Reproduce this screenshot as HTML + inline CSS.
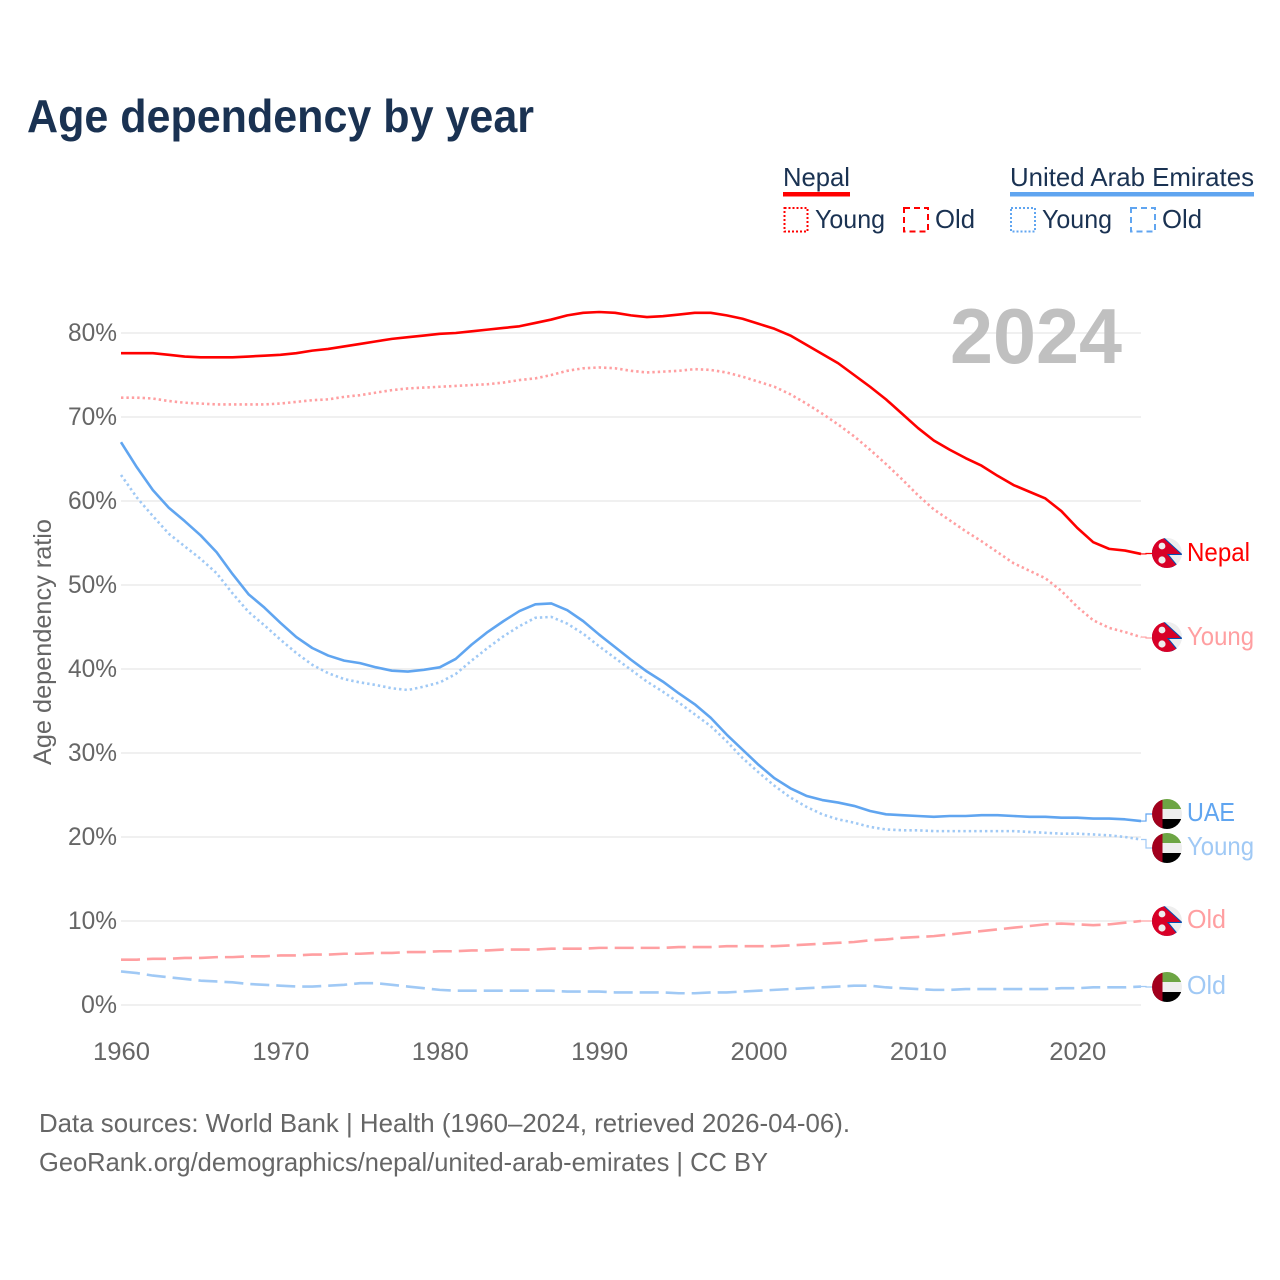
<!DOCTYPE html>
<html lang="en">
<head>
<meta charset="utf-8">
<title>Age dependency by year</title>
<style>
html,body{margin:0;padding:0;background:#fff}
svg{display:block}
text{font-family:"Liberation Sans",sans-serif}
</style>
</head>
<body>
<svg id="chart" xmlns="http://www.w3.org/2000/svg" width="1280" height="1280" viewBox="0 0 1280 1280">
  <defs>
    <clipPath id="flag-clip"><circle cx="0" cy="0" r="15"></circle></clipPath>
  </defs>
  <rect x="0" y="0" width="1280" height="1280" fill="#ffffff"></rect>
  <text x="27" y="132" font-size="46" font-weight="700" fill="#1a3252" textLength="507" lengthAdjust="spacingAndGlyphs">Age dependency by year</text>

  <g id="legend">
    <text x="783" y="186" font-size="26" fill="#1a3252" textLength="67" lengthAdjust="spacingAndGlyphs">Nepal</text>
    <rect x="783" y="192" width="67" height="4.5" fill="#ff0000"></rect>
    <rect x="784.5" y="208" width="23" height="23.5" fill="none" stroke="#ff0000" stroke-width="2" stroke-dasharray="2 2"></rect>
    <text x="815" y="228" font-size="26" fill="#1a3252" textLength="70" lengthAdjust="spacingAndGlyphs">Young</text>
    <rect x="904" y="208" width="24" height="23.5" fill="none" stroke="#ff0000" stroke-width="2" stroke-dasharray="6 4"></rect>
    <text x="935" y="228" font-size="26" fill="#1a3252" textLength="40" lengthAdjust="spacingAndGlyphs">Old</text>
    <text x="1010" y="186" font-size="26" fill="#1a3252" textLength="244" lengthAdjust="spacingAndGlyphs">United Arab Emirates</text>
    <rect x="1010" y="192" width="244" height="4.5" fill="#60a5f0"></rect>
    <rect x="1011" y="208" width="24" height="23.5" fill="none" stroke="#60a5f0" stroke-width="2" stroke-dasharray="2 2"></rect>
    <text x="1042" y="228" font-size="26" fill="#1a3252" textLength="70" lengthAdjust="spacingAndGlyphs">Young</text>
    <rect x="1131" y="208" width="24" height="23.5" fill="none" stroke="#60a5f0" stroke-width="2" stroke-dasharray="6 4"></rect>
    <text x="1162" y="228" font-size="26" fill="#1a3252" textLength="40" lengthAdjust="spacingAndGlyphs">Old</text>
  </g>

  <g id="grid"></g>
  <g id="y-ticks"></g>
  <g id="x-ticks"></g>
  <text transform="translate(51,642) rotate(-90)" text-anchor="middle" font-size="25" fill="#666666" textLength="246" lengthAdjust="spacingAndGlyphs">Age dependency ratio</text>
  <text x="950" y="363" font-size="78" font-weight="700" fill="#c0c0c0" textLength="172" lengthAdjust="spacingAndGlyphs">2024</text>
  <g id="series"></g>
  <g id="end-labels"></g>

  <text x="39" y="1132" font-size="26" fill="#666666" textLength="811" lengthAdjust="spacingAndGlyphs">Data sources: World Bank | Health (1960–2024, retrieved 2026-04-06).</text>
  <text x="39" y="1171" font-size="26" fill="#666666" textLength="729" lengthAdjust="spacingAndGlyphs">GeoRank.org/demographics/nepal/united-arab-emirates | CC BY</text>
</svg>
<script>
const startYear = 1960;
const yTicks = [0, 10, 20, 30, 40, 50, 60, 70, 80];
const xTicks = [1960, 1970, 1980, 1990, 2000, 2010, 2020];

const nepalTotal = [
  77.6,77.6,77.6,77.4,77.2,77.1,77.1,77.1,77.2,77.3,
  77.4,77.6,77.9,78.1,78.4,78.7,79.0,79.3,79.5,79.7,
  79.9,80.0,80.2,80.4,80.6,80.8,81.2,81.6,82.1,82.4,
  82.5,82.4,82.1,81.9,82.0,82.2,82.4,82.4,82.1,81.7,
  81.1,80.5,79.7,78.6,77.5,76.4,75.0,73.6,72.1,70.4,
  68.7,67.2,66.1,65.1,64.2,63.0,61.9,61.1,60.3,58.8,
  56.8,55.1,54.3,54.1,53.7
];
const nepalYoung = [
  72.3,72.3,72.2,71.9,71.7,71.6,71.5,71.5,71.5,71.5,
  71.6,71.8,72.0,72.1,72.4,72.6,72.9,73.2,73.4,73.5,
  73.6,73.7,73.8,73.9,74.1,74.4,74.6,75.0,75.5,75.8,
  75.9,75.8,75.5,75.3,75.4,75.5,75.7,75.6,75.3,74.8,
  74.2,73.6,72.7,71.6,70.4,69.1,67.7,66.1,64.4,62.6,
  60.7,59.0,57.7,56.4,55.2,53.9,52.6,51.7,50.8,49.3,
  47.4,45.8,44.9,44.4,43.8
];
const nepalOld = [
  5.4,5.4,5.5,5.5,5.6,5.6,5.7,5.7,5.8,5.8,
  5.9,5.9,6.0,6.0,6.1,6.1,6.2,6.2,6.3,6.3,
  6.4,6.4,6.5,6.5,6.6,6.6,6.6,6.7,6.7,6.7,
  6.8,6.8,6.8,6.8,6.8,6.9,6.9,6.9,7.0,7.0,
  7.0,7.0,7.1,7.2,7.3,7.4,7.5,7.7,7.8,8.0,
  8.1,8.2,8.4,8.6,8.8,9.0,9.2,9.4,9.6,9.7,
  9.6,9.5,9.6,9.8,10.0
];
const uaeTotal = [
  67.0,64.0,61.3,59.2,57.6,55.9,53.9,51.3,48.9,47.3,
  45.5,43.8,42.5,41.6,41.0,40.7,40.2,39.8,39.7,39.9,
  40.2,41.2,42.9,44.4,45.7,46.9,47.7,47.8,47.0,45.7,
  44.1,42.6,41.1,39.7,38.5,37.1,35.8,34.2,32.2,30.4,
  28.6,27.0,25.8,24.9,24.4,24.1,23.7,23.1,22.7,22.6,
  22.5,22.4,22.5,22.5,22.6,22.6,22.5,22.4,22.4,22.3,
  22.3,22.2,22.2,22.1,21.9
];
const uaeYoung = [
  63.1,60.4,58.2,56.1,54.6,53.1,51.4,49.0,46.8,45.2,
  43.5,41.9,40.5,39.5,38.8,38.4,38.1,37.7,37.5,37.9,
  38.4,39.4,41.0,42.5,43.9,45.1,46.1,46.2,45.4,44.2,
  42.7,41.3,39.9,38.5,37.3,36.0,34.6,33.2,31.4,29.4,
  27.7,26.1,24.7,23.6,22.7,22.1,21.7,21.2,20.9,20.8,
  20.8,20.7,20.7,20.7,20.7,20.7,20.7,20.6,20.5,20.4,
  20.4,20.3,20.2,20.0,19.7
];
const uaeOld = [
  4.0,3.8,3.5,3.3,3.1,2.9,2.8,2.7,2.5,2.4,
  2.3,2.2,2.2,2.3,2.4,2.6,2.6,2.4,2.2,2.0,
  1.8,1.7,1.7,1.7,1.7,1.7,1.7,1.7,1.6,1.6,
  1.6,1.5,1.5,1.5,1.5,1.4,1.4,1.5,1.5,1.6,
  1.7,1.8,1.9,2.0,2.1,2.2,2.3,2.3,2.1,2.0,
  1.9,1.8,1.8,1.9,1.9,1.9,1.9,1.9,1.9,2.0,
  2.0,2.1,2.1,2.1,2.2
];

const NS = 'http://www.w3.org/2000/svg';
const xScale = function (year) { return 121 + (year - 1960) * (1020 / 64); };
const yScale = function (v) { return 1005 - v * 8.4; };

function make(tag, parent, attrs) {
  const el = document.createElementNS(NS, tag);
  Object.keys(attrs).forEach(function (k) { el.setAttribute(k, attrs[k]); });
  parent.appendChild(el);
  return el;
}

const gridG = document.getElementById('grid');
const yG = document.getElementById('y-ticks');
yTicks.forEach(function (t) {
  const line = make('line', gridG, { x1: 121, x2: 1141, y1: yScale(t), y2: yScale(t), stroke: '#e8e8e8', 'stroke-width': 1.2 });
  
  
  const label = make('text', yG, { x: 117, y: yScale(t) + 8, 'text-anchor': 'end', 'font-size': 25, fill: '#666666', textLength: t === 0 ? 36 : 49, lengthAdjust: 'spacingAndGlyphs' });
  
  
  label.textContent = t + '%';
});

const xG = document.getElementById('x-ticks');
xTicks.forEach(function (t) {
  const label = make('text', xG, { x: xScale(t) + 0.5, y: 1060, 'text-anchor': 'middle', 'font-size': 25, fill: '#666666', textLength: 57, lengthAdjust: 'spacingAndGlyphs' });
  
  
  label.textContent = t;
});

function drawLine(values, color, width, dash, key, labelY) {
  const g = document.getElementById('series');
  const pts = values.map(function (v, i) {
    return xScale(startYear + i).toFixed(2) + ',' + yScale(v).toFixed(2);
  }).join(' ');
  const attrs = { points: pts, fill: 'none', stroke: color, 'stroke-width': width, 'stroke-linejoin': 'round' };
  if (dash) { attrs['stroke-dasharray'] = dash; }
  const line = make('polyline', g, attrs);
  
  line.setAttribute('data-series', key);
  
  const endY = yScale(values[values.length - 1]);
  const conn = make('path', g, { d: 'M1141 ' + endY.toFixed(2) + ' H1146 V' + labelY + ' H1153', fill: 'none', stroke: color, 'stroke-width': 1.2 });
  
  
}

const RED = '#ff0000', BLUE = '#60a5f0', LRED = '#ff9fa1', LBLUE = '#a0c9f5';
const DOT = '2.4 3', DASH = '19 7';

drawLine(nepalOld, LRED, 2.6, DASH, 'nepal-old', 921);
drawLine(uaeOld, LBLUE, 2.6, DASH, 'uae-old', 987);
drawLine(nepalYoung, LRED, 2.6, DOT, 'nepal-young', 638);
drawLine(uaeYoung, LBLUE, 2.6, DOT, 'uae-young', 848);
drawLine(nepalTotal, RED, 2.6, null, 'nepal-total', 553.5);
drawLine(uaeTotal, BLUE, 2.6, null, 'uae-total', 814);

function drawFlag(kind, cy) {
  const labels = document.getElementById('end-labels');
  const g = make('g', labels, { transform: 'translate(1167,' + cy + ')', 'clip-path': 'url(#flag-clip)' });
  
  
  if (kind === 'nepal') {
    make('rect', g, { x: -15, y: -15, width: 30, height: 30, fill: '#eeeeee' });
    make('polygon', g, { points: '-15,-17 -3,-15 15,1.5 1,1.5 11,13.5 -15,15', fill: '#d80027', stroke: '#0052b4', 'stroke-width': 1 });
    make('rect', g, { x: -15, y: -16, width: 8, height: 32, fill: '#d80027' });
    make('rect', g, { x: -15, y: 13.5, width: 30, height: 2, fill: '#d80027' });
    make('circle', g, { cx: -5, cy: -7, r: 3.4, fill: '#eeeeee' });
    make('circle', g, { cx: -5, cy: 7, r: 3.6, fill: '#eeeeee' });
  } else {
    make('rect', g, { x: -15, y: -15, width: 30, height: 10, fill: '#6da544' });
    make('rect', g, { x: -15, y: -5, width: 30, height: 10, fill: '#eeeeee' });
    make('rect', g, { x: -15, y: 5, width: 30, height: 10, fill: '#000000' });
    make('rect', g, { x: -15, y: -15, width: 10.5, height: 30, fill: '#a2001d' });
  }
}

function drawEndLabel(text, color, baseline, width) {
  const labels = document.getElementById('end-labels');
  const t = make('text', labels, { x: 1187, y: baseline, 'font-size': 26, fill: color, textLength: width, lengthAdjust: 'spacingAndGlyphs' });
  
  
  t.textContent = text;
}

drawFlag('nepal', 553);
drawEndLabel('Nepal', RED, 561, 63);
drawFlag('nepal', 637);
drawEndLabel('Young', LRED, 645, 67);
drawFlag('uae', 814);
drawEndLabel('UAE', BLUE, 821, 48);
drawFlag('uae', 848);
drawEndLabel('Young', LBLUE, 855, 67);
drawFlag('nepal', 921);
drawEndLabel('Old', LRED, 928, 39);
drawFlag('uae', 987);
drawEndLabel('Old', LBLUE, 994, 39);
</script>
</body>
</html>
